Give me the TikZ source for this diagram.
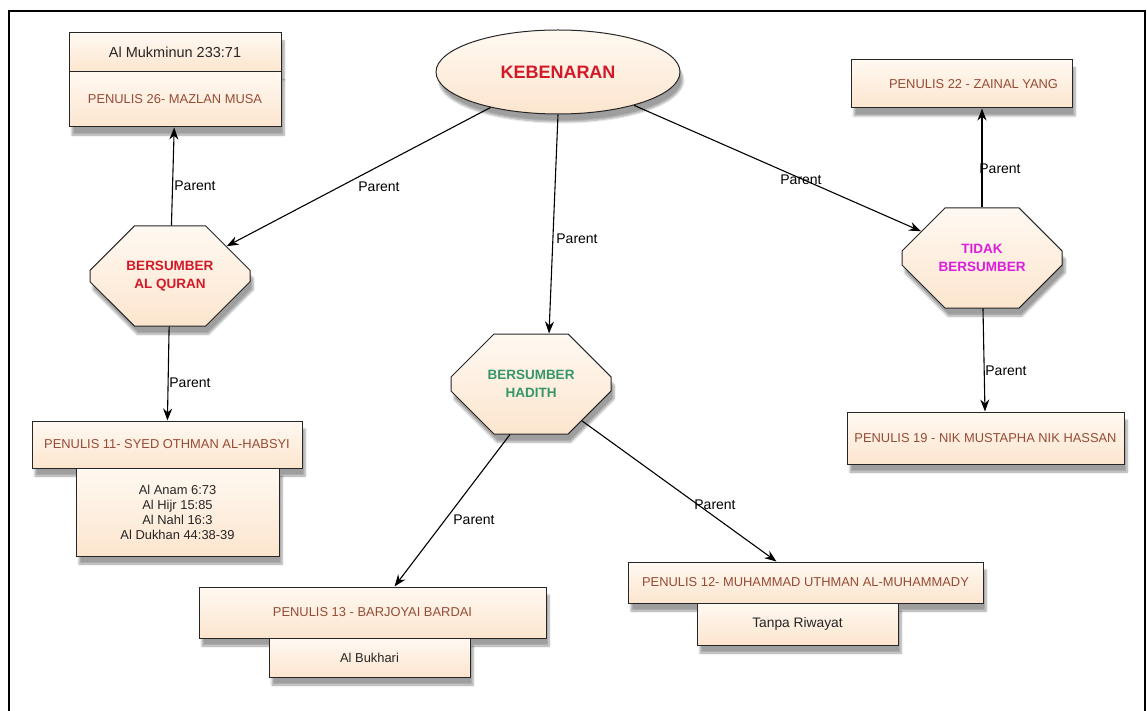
\documentclass[tikz,border=0pt]{standalone}
\usepackage{fontspec}
\setmainfont{Liberation Sans}
\usetikzlibrary{shapes.geometric,shapes.misc,arrows.meta,shadows.blur}
\definecolor{peachA}{RGB}{255,249,242}
\definecolor{peachB}{RGB}{252,229,206}
\definecolor{brownT}{RGB}{150,76,54}
\definecolor{redT}{RGB}{210,25,40}
\definecolor{greenT}{RGB}{55,150,105}
\definecolor{magT}{RGB}{220,30,220}
\begin{document}
\begin{tikzpicture}[x=1pt,y=-1pt,
  base/.style={draw=black!85, line width=1pt, top color=peachA, bottom color=peachB,
    blur shadow={shadow xshift=3pt, shadow yshift=-8pt, shadow opacity=38, shadow blur steps=6}},
  box/.style={base, rectangle, inner sep=0pt, font=\fontsize{12.9}{15}\selectfont, text=brownT},
  sub/.style={base, rectangle, inner sep=0pt, align=center, font=\fontsize{12.9}{15}\selectfont, text=black!85},
  oct/.style={base, chamfered rectangle, chamfered rectangle xsep=40pt, chamfered rectangle ysep=29pt,
    minimum width=160pt, minimum height=100pt, inner sep=0pt, align=center,
    font=\bfseries\fontsize{13.5}{18.5}\selectfont},
  lbl/.style={font=\fontsize{14}{16}\selectfont, inner sep=1pt},
  arr/.style={-{Stealth[length=12pt,width=9pt]}, line width=1.1pt}]
\useasboundingbox (0,0) rectangle (1147,711);
\draw[line width=2.5pt] (9,715) -- (9,11) -- (1145,11) -- (1145,715);

% top ellipse
\node[base, ellipse, minimum width=244pt, minimum height=84pt, inner sep=0pt,
  font=\bfseries\fontsize{18}{20}\selectfont, text=redT] (keb) at (558,72) {KEBENARAN};

% octagons
\node[oct, text=redT] (quran) at (170,276) {BERSUMBER\\AL QURAN};
\node[oct, text=greenT] (hadith) at (531,384) {BERSUMBER\\HADITH};
\node[oct, text=magT] (tidak) at (982,258) {TIDAK\\BERSUMBER};

% boxes
\node[sub, minimum width=212pt, minimum height=39pt, font=\fontsize{14.5}{16}\selectfont] (muk) at (175,52.5) {Al Mukminun 233:71};
\node[box, minimum width=212pt, minimum height=55pt] (p26) at (175,99.5) {PENULIS 26- MAZLAN MUSA};
\node[box, minimum width=221pt, minimum height=48pt] (p22) at (961.5,84) {\hspace*{24pt}PENULIS 22 - ZAINAL YANG};
\node[box, minimum width=277pt, minimum height=52pt] (p19) at (985.5,438) {PENULIS 19 - NIK MUSTAPHA NIK HASSAN};
\node[box, minimum width=270pt, minimum height=47pt] (p11) at (167,444.5) {PENULIS 11- SYED OTHMAN AL-HABSYI};
\node[sub, minimum width=203pt, minimum height=88pt] (s11) at (177.5,512)
  {Al Anam 6:73\\Al Hijr 15:85\\Al Nahl 16:3\\Al Dukhan 44:38-39};
\node[box, minimum width=347pt, minimum height=51pt] (p13) at (372.5,612.5) {PENULIS 13 - BARJOYAI BARDAI};
\node[sub, minimum width=201pt, minimum height=39pt] (s13) at (369.5,657.5) {Al Bukhari};
\node[box, minimum width=355pt, minimum height=41pt] (p12) at (805.5,582.5) {PENULIS 12- MUHAMMAD UTHMAN AL-MUHAMMADY};
\node[sub, minimum width=201pt, minimum height=42pt, font=\fontsize{13.8}{16}\selectfont] (s12) at (797.5,624) {Tanpa Riwayat};

% connectors
\draw[arr] (keb) -- (quran);
\draw[arr] (keb.south) -- ([xshift=18pt]hadith.north);
\draw[arr] (keb) -- (tidak);
\draw[arr] (quran) -- (p26);
\draw[arr] (quran) -- (p11);
\draw[arr] ([xshift=-21pt]hadith.south) -- ([xshift=22pt]p13.north);
\draw[arr] (hadith) -- (p12);
\draw[arr] (tidak.north) -- (tidak.north |- p22.south);
\draw[arr] (tidak) -- (p19);

% labels
\node[lbl] (l1) at (379,187) {Parent};
\node[lbl] (l2) at (577,239) {Parent};
\node[lbl] (l3) at (801,180) {Parent};
\node[lbl] (l4) at (195,186) {Parent};
\node[lbl] (l5) at (190,383) {Parent};
\node[lbl] (l6) at (474,520) {Parent};
\node[lbl] (l7) at (715,505) {Parent};
\node[lbl] (l8) at (1000,169) {Parent};
\node[lbl] (l9) at (1006,371) {Parent};
\end{tikzpicture}
\end{document}
